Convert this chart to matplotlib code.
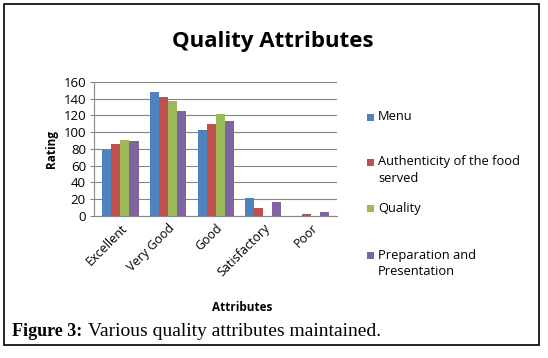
import numpy as np
import matplotlib
matplotlib.use("Agg")
import matplotlib.pyplot as plt
from matplotlib.patches import Rectangle

categories = ["Excellent", "Very Good", "Good", "Satisfactory", "Poor"]
series_names = ["Menu", "Authenticity of the food\nserved", "Quality",
                "Preparation and\nPresentation"]
menu = [79, 148, 103, 21, 0]
authenticity = [86, 142, 110, 9, 2]
quality = [91, 137, 122, 0, 0]
preparation = [89, 125, 113, 17, 5]
yticks = [0, 20, 40, 60, 80, 100, 120, 140, 160]

colors = ["#4F81BD", "#C0504D", "#9BBB59", "#8064A2"]
plt.rcParams['font.family'] = ['Open Sans', 'DejaVu Sans']

fig = plt.figure(figsize=(5.48, 3.58), dpi=100)
ax = fig.add_axes([0.172, 0.397, 0.443, 0.374])

x = np.arange(len(categories))
w = 0.19
all_series = [menu, authenticity, quality, preparation]
for i, vals in enumerate(all_series):
    ax.bar(x + (i - 1.5) * w, vals, width=w, color=colors[i],
           edgecolor="none", label=series_names[i], zorder=3)

ax.set_ylim(0, 160)
ax.set_xlim(-0.55, len(categories) - 0.45)
ax.set_yticks(yticks)
ax.tick_params(axis='y', labelsize=9.5, length=3, color="#868686", pad=3)
ax.set_xticks(x)
ax.set_xticklabels(categories, rotation=45, ha="right", rotation_mode="anchor",
                   fontsize=9)
ax.tick_params(axis='x', length=0, pad=4)
ax.grid(axis='y', color="#868686", linewidth=0.8, zorder=0)
for s in ["top", "right"]:
    ax.spines[s].set_visible(False)
ax.spines["left"].set_color("#868686")
ax.spines["bottom"].set_color("#868686")
ax.set_ylabel("Rating", fontsize=8.5, fontweight="bold", labelpad=4)

fig.text(0.497, 0.885, "Quality Attributes", ha="center", va="center",
         fontsize=16, fontweight="bold")
fig.text(0.442, 0.142, "Attributes", ha="center", va="center",
         fontsize=8.5, fontweight="bold")

# legend entries: y of first text line in pixels from top
legend_rows = [117, 162, 208, 255]
H = 358.0
for name, c, yp in zip(series_names, colors, legend_rows):
    yf = 1 - yp / H
    fig.patches.append(Rectangle((367 / 548, yf - 3.5 / H), 7 / 548, 7 / H,
                                 transform=fig.transFigure, facecolor=c,
                                 edgecolor="none"))
    fig.text(378 / 548, yf + 6.5 / H, name, fontsize=9.3, va="top", ha="left",
             linespacing=1.35)

fig.text(0.022, 0.075, "Figure 3:", family="Liberation Serif",
         fontweight="bold", fontsize=13, va="center")
fig.text(0.160, 0.075, "Various quality attributes maintained.",
         family="Liberation Serif", fontsize=14, va="center")

fig.patches.append(Rectangle((0.008, 0.035), 0.975, 0.955, transform=fig.transFigure,
                             fill=False, edgecolor="black", linewidth=1.2))

fig.savefig("out.png", dpi=100)
